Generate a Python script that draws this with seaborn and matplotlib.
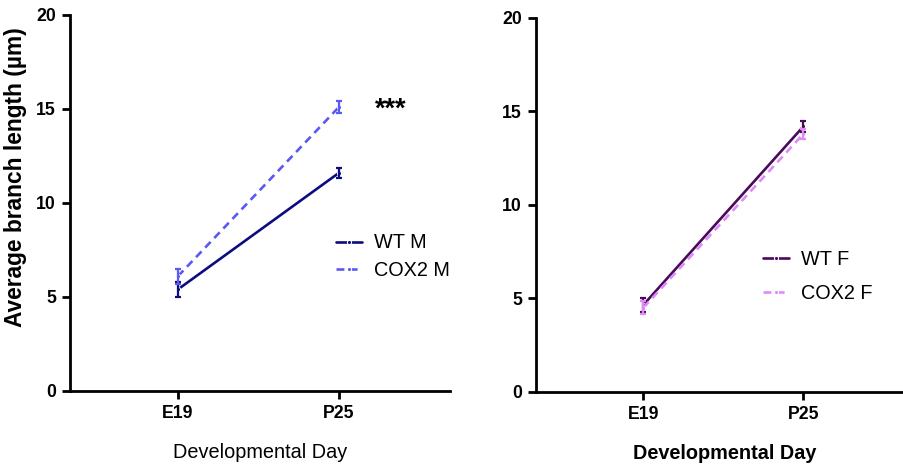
import matplotlib
matplotlib.use("Agg")
import matplotlib.pyplot as plt
import seaborn as sns
import pandas as pd

sns.set_theme(style="ticks")
plt.rcParams["font.family"] = ["Liberation Sans", "DejaVu Sans"]
plt.rcParams.update({"text.color": "black", "axes.labelcolor": "black",
                     "xtick.color": "black", "ytick.color": "black"})

days = ["E19", "P25"]

# Males
wt_m_mean = [5.4, 11.6]
wt_m_sem = [0.4, 0.25]
cox2_m_mean = [6.1, 15.1]
cox2_m_sem = [0.4, 0.3]

# Females
wt_f_mean = [4.65, 14.2]
wt_f_sem = [0.35, 0.28]
cox2_f_mean = [4.5, 13.8]
cox2_f_sem = [0.35, 0.25]

groups_m = ["WT M", "COX2 M"]
groups_f = ["WT F", "COX2 F"]
colors_m = ["#0c0c80", "#5a5af2"]
colors_f = ["#4a0a5a", "#dd8cf7"]
y_ticks = [0, 5, 10, 15, 20]


def build_frame(names, means, sems):
    rows = []
    for name, m, s in zip(names, means, sems):
        for d, mv, sv in zip(days, m, s):
            rows.append({"Day": d, "Group": name, "Length": mv, "SEM": sv})
    return pd.DataFrame(rows)


df_m = build_frame(groups_m, [wt_m_mean, cox2_m_mean], [wt_m_sem, cox2_m_sem])
df_f = build_frame(groups_f, [wt_f_mean, cox2_f_mean], [wt_f_sem, cox2_f_sem])

fig = plt.figure(figsize=(9.04, 4.66), dpi=100)
ax1 = fig.add_axes([0.0774, 0.161, 0.4204, 0.8069])
ax2 = fig.add_axes([0.5929, 0.1588, 0.418, 0.8026])


def draw_panel(ax, df, names, colors, legend_anchor, spacing):
    palette = dict(zip(names, colors))
    dashes = {names[0]: "", names[1]: (3, 2)}
    sns.lineplot(data=df, x="Day", y="Length", hue="Group", style="Group",
                 hue_order=names, style_order=names, palette=palette,
                 dashes=dashes, markers={names[0]: "o", names[1]: "o"},
                 markersize=3, linewidth=1.9, ax=ax, errorbar=None, sort=False)
    for name in names:
        sub = df[df["Group"] == name]
        xs = [days.index(d) for d in sub["Day"]]
        ax.errorbar(xs, sub["Length"], yerr=sub["SEM"], fmt="none",
                    ecolor=palette[name], elinewidth=1.6, capsize=2.5,
                    capthick=1.6, zorder=3)
    ax.set_xlim(-0.67, 1.69)
    ax.set_ylim(0, 20)
    ax.set_yticks(y_ticks)
    ax.set_xticks([0, 1])
    ax.set_xticklabels(days)
    for side in ("top", "right"):
        ax.spines[side].set_visible(False)
    for side in ("left", "bottom"):
        ax.spines[side].set_linewidth(2)
        ax.spines[side].set_color("black")
    ax.tick_params(axis="both", length=6, width=2, color="black",
                   labelsize=12.7, pad=4)
    for lbl in ax.get_xticklabels() + ax.get_yticklabels():
        lbl.set_fontweight("bold")
    ax.legend(frameon=False, fontsize=14.3, handlelength=1.3,
              handletextpad=0.6, labelspacing=spacing, loc="upper left",
              bbox_to_anchor=legend_anchor, borderaxespad=0)


draw_panel(ax1, df_m, groups_m, colors_m, (0.68, 0.44), 0.42)
ax1.set_xlabel("Developmental Day", fontsize=14.3, labelpad=15)
ax1.set_ylabel("Average branch length (µm)", fontsize=16.4,
               fontweight="bold")
ax1.yaxis.set_label_coords(-0.112, 0.569)
ax1.text(1.32, 14.95, "***", fontsize=19.5, fontweight="bold",
         ha="center", va="center")

draw_panel(ax2, df_f, groups_f, colors_f, (0.58, 0.40), 0.72)
ax2.set_xlabel("Developmental Day", fontsize=14.3, fontweight="bold",
               labelpad=15)
ax2.set_ylabel("")

fig.savefig("out.png", dpi=100)
